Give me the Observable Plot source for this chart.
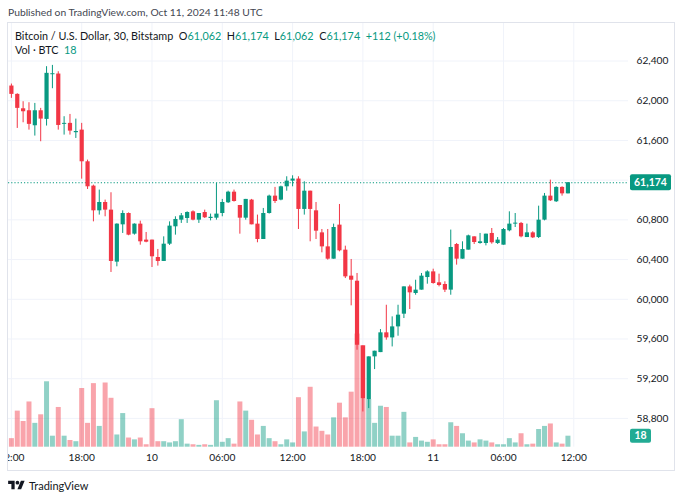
<!DOCTYPE html>
<html><head><meta charset="utf-8">
<script src="https://cdn.jsdelivr.net/npm/d3@7"></script>
<script src="https://cdn.jsdelivr.net/npm/@observablehq/plot@0.6"></script>
<style>
body{margin:0;background:#fff;font-family:Lato,sans-serif;}
#wrap{position:relative;width:683px;height:500px;overflow:hidden;background:#fff;}
#pub{position:absolute;left:8px;top:6px;font-size:10.3px;color:#434651;white-space:nowrap;}
#frame{position:absolute;left:7px;top:22px;width:666px;height:447px;border:1px solid #e0e3eb;overflow:hidden;}
#frame svg{position:absolute;left:-8px;top:-23px;max-width:none !important;}
.leg{position:absolute;left:15px;font-size:10.8px;color:#131722;white-space:nowrap;line-height:14px;}
.g{color:#089981;}
#logo{position:absolute;left:8px;top:479px;font-size:11px;color:#131722;display:flex;align-items:center;gap:4px;}
</style></head>
<body>
<div id="wrap">
  <div id="pub">Published on TradingView.com, Oct 11, 2024 11:48 UTC</div>
  <div id="frame"></div>
  <div class="leg" id="leg1" style="top:29px"></div>
  <div class="leg" id="leg2" style="top:43px"></div>
  <div id="logo"><svg width="17" height="13" viewBox="0 0 36 28"><path fill="#131722" d="M14 22H7V11H0V4h14v18ZM28 22h-8l7.5-18h8L28 22Z"/><circle fill="#131722" cx="20" cy="8" r="4"/></svg><span>TradingView</span></div>
</div>
<script>
// 30-minute candles, Bitstamp BTC/USD, starting Oct 9 2024 12:00 UTC
const startUTC = Date.UTC(2024, 9, 9, 12, 0);
const open  = [62148,62064,61919,61899,61748,61899,61812,62262,62269,61762,61772,61678,61704,61385,61140,60891,60975,60898,60374,60750,60864,60656,60757,60596,60596,60421,60381,60555,60730,60797,60814,60881,60797,60874,60814,60817,60864,60972,61079,60945,60817,60999,60757,60602,60864,61039,60999,61133,61190,61211,60905,61089,60891,60669,60528,60404,60747,60495,60233,60182,59530,58990,59420,59463,59662,59611,59722,59850,60125,60058,60092,60219,60276,60166,60149,60092,60552,60404,60495,60629,60562,60562,60663,60562,60545,60690,60757,60764,60622,60669,60622,60797,61039,60982,61127,61062];
const high  = [62168,62070,61990,61980,61973,61923,62343,62356,62292,61839,61862,61815,61772,61402,61150,61100,60999,61073,60760,60891,60870,60760,60787,60673,60596,60502,60629,60780,60831,60864,60881,60891,60864,60898,60858,61167,61006,61089,61100,60945,61006,61006,60848,60915,61049,61127,61140,61234,61244,61234,61184,61089,60975,60703,60703,60757,60955,60535,60401,60260,59530,59420,59477,59695,59940,59823,59940,60125,60142,60192,60260,60287,60303,60253,60176,60697,60562,60579,60646,60629,60663,60656,60713,60622,60713,60881,60864,60774,60757,60680,60938,61066,61200,61133,61133,61174];
const low   = [62024,61721,61778,61704,61644,61587,61745,62121,61704,61654,61654,61620,61210,61106,60780,60848,60831,60270,60327,60663,60640,60646,60545,60569,60320,60334,60381,60542,60646,60764,60764,60790,60764,60814,60790,60797,60831,60965,60979,60656,60797,60750,60569,60602,60858,60965,60992,61089,61133,60703,60848,60579,60602,60468,60394,60404,60478,60209,59934,59487,58865,58899,59292,59463,59588,59520,59628,59806,59897,60041,60092,60152,60152,60125,60068,60041,60344,60404,60495,60552,60555,60538,60555,60552,60545,60680,60723,60619,60622,60612,60612,60790,60985,60975,61039,61062];
const close = [62064,61923,61889,61762,61899,61815,62276,62272,61751,61772,61694,61690,61385,61133,60891,60975,60898,60381,60757,60864,60646,60757,60579,60575,60428,60381,60555,60737,60804,60841,60874,60797,60864,60821,60826,60858,60975,61079,60985,60817,61006,60750,60602,60864,61039,60985,61133,61190,61211,60905,61089,60905,60686,60528,60404,60723,60488,60226,60192,59537,58999,59420,59477,59662,59611,59722,59840,60125,60065,60092,60233,60276,60159,60139,60092,60522,60404,60501,60639,60572,60579,60656,60569,60596,60703,60757,60767,60629,60669,60619,60797,61039,60992,61127,61062,61174];
const volume = [14,59,42,74,39,53,107,18,65,18,11,9,96,39,104,34,105,80,20,55,15,12,15,4,63,9,9,7,9,45,5,4,3,4,3,76,8,14,5,74,59,44,20,34,14,9,4,12,7,81,25,98,33,26,20,48,72,48,90,185,166,78,39,67,65,18,18,57,7,16,10,8,12,4,4,40,34,22,10,7,12,10,7,4,4,14,7,22,4,5,29,34,38,7,5,18];
const priceTicks = [58800,59200,59600,60000,60400,60800,61200,61600,62000,62400];
const timeTicks = ["2024-10-09T12:00Z","2024-10-09T18:00Z","2024-10-10T00:00Z","2024-10-10T06:00Z","2024-10-10T12:00Z","2024-10-10T18:00Z","2024-10-11T00:00Z","2024-10-11T06:00Z","2024-10-11T12:00Z"].map(s => new Date(s));

const UP = "#089981", DOWN = "#f23645";
const STEP = 30 * 60 * 1000;
const rows = open.map((o, i) => ({
  t: new Date(startUTC + i * STEP), o, h: high[i], l: low[i], c: close[i], v: volume[i],
  col: close[i] >= o ? UP : DOWN
}));
const last = rows[rows.length - 1];

const FONT = 'Lato, sans-serif';
const base = {
  width: 683, height: 470,
  marginLeft: 8, marginRight: 55, marginTop: 23, marginBottom: 23.3,
  x: {type: "utc", domain: [new Date(startUTC - 0.495 * STEP), new Date(startUTC + 105.34 * STEP)]},
  style: {background: "transparent", overflow: "visible", maxWidth: "none", fontFamily: FONT, fontSize: "10.2px", color: "#131722"}
};
const priceDomain = [58510, 62778];

// layer 1: grid
const grid = Plot.plot({
  ...base,
  x: {...base.x, axis: null},
  y: {domain: priceDomain, axis: null},
  marks: [
    Plot.gridX({ticks: timeTicks, stroke: "#f0f3fa", strokeOpacity: 1}),
    Plot.gridY({ticks: priceTicks, stroke: "#f0f3fa", strokeOpacity: 1})
  ]
});

// layer 2: volume
const vol = Plot.plot({
  ...base,
  x: {...base.x, axis: null},
  y: {domain: [0, 693], axis: null},
  marks: [
    Plot.ruleX(rows, {x: "t", y1: 0, y2: "v", stroke: "col", strokeWidth: 5, strokeOpacity: 0.45})
  ]
});

// layer 3: candles and axes (the 61,200 label is hidden behind the last-price tag in the reference)
const fmtTime = d => d.getUTCHours() === 0 ? String(d.getUTCDate()) : d3.utcFormat("%H:%M")(d);
const labelTicks = priceTicks.filter(p => Math.abs(p - last.c) > 100);
const price = Plot.plot({
  ...base,
  y: {domain: priceDomain},
  marks: [
    Plot.axisY({anchor: "right", ticks: labelTicks, tickSize: 0, tickPadding: 8, tickFormat: d3.format(","), label: null}),
    Plot.axisX({ticks: timeTicks, tickSize: 0, tickPadding: 7, tickFormat: fmtTime, label: null}),
    Plot.ruleY([last.c], {stroke: UP, strokeDasharray: "1.2,2", strokeWidth: 1}),
    Plot.ruleX(rows, {x: "t", y1: "l", y2: "h", stroke: "col", strokeWidth: 1}),
    Plot.ruleX(rows, {x: "t", y1: "o", y2: "c", stroke: "col", strokeWidth: 4.2})
  ]
});

// last-price label (positioned through the plot's y scale)
{
  const y = price.scale("y").apply(last.c);
  const s = d3.select(price);
  s.append("rect").attr("x", 630).attr("y", y - 8).attr("width", 41).attr("height", 16).attr("rx", 2).attr("fill", UP);
  s.append("text").attr("x", 650.5).attr("y", y).attr("dy", "0.35em").attr("text-anchor", "middle")
    .attr("fill", "#fff").attr("font-weight", "bold").attr("font-size", "10.5px").text(d3.format(",")(last.c));
}
// last-volume label
{
  const y = vol.scale("y").apply(last.v);
  const s = d3.select(vol);
  s.append("rect").attr("x", 630).attr("y", y - 7).attr("width", 21).attr("height", 14).attr("rx", 2).attr("fill", "#22ab94");
  s.append("text").attr("x", 640.5).attr("y", y).attr("dy", "0.35em").attr("text-anchor", "middle")
    .attr("fill", "#fff").attr("font-weight", "bold").attr("font-size", "10.5px").style("font-family", FONT).text(String(last.v));
}

const frame = document.getElementById("frame");
frame.append(grid, vol, price);

// legend
const f = d3.format(",");
const prev = rows[rows.length - 2].c;
const chg = last.c - prev;
const pct = (chg / prev * 100).toFixed(2);
document.getElementById("leg1").innerHTML =
  `Bitcoin / U.S. Dollar, 30, Bitstamp&nbsp;&nbsp;O<span class="g">${f(last.o)}</span>&nbsp;&nbsp;H<span class="g">${f(last.h)}</span>&nbsp;&nbsp;L<span class="g">${f(last.l)}</span>&nbsp;&nbsp;C<span class="g">${f(last.c)}</span>&nbsp;&nbsp;<span class="g">${chg >= 0 ? "+" : ""}${chg} (${chg >= 0 ? "+" : ""}${pct}%)</span>`;
document.getElementById("leg2").innerHTML = `Vol · BTC&nbsp;&nbsp;<span class="g">${last.v}</span>`;
</script>
</body></html>
